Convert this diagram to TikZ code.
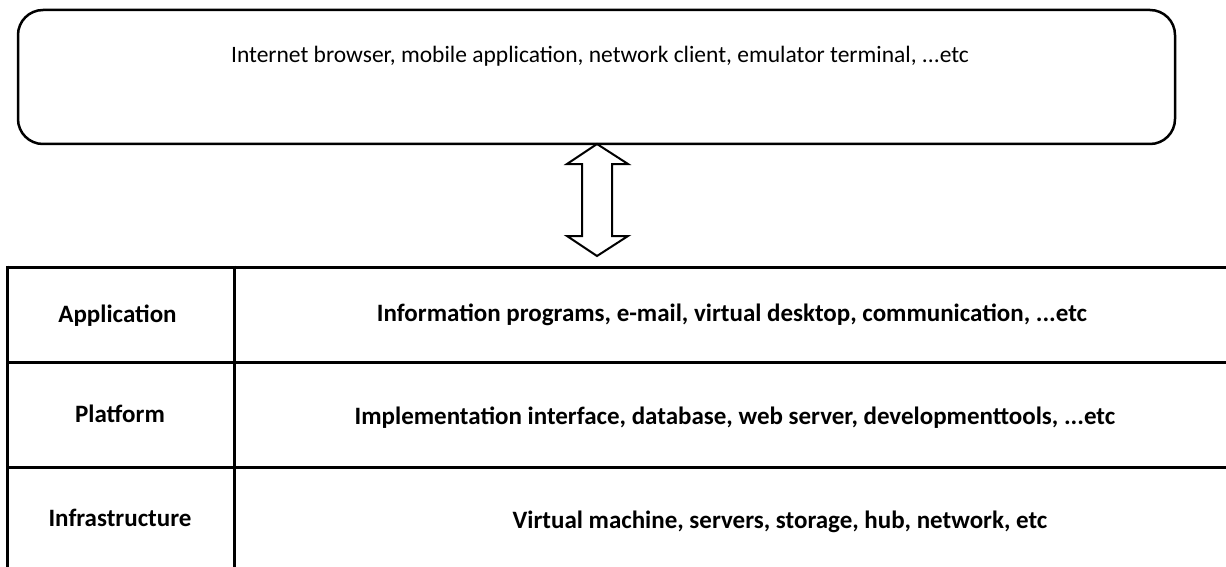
\documentclass[tikz,border=0pt]{standalone}
\usepackage{fontspec}
\setmainfont{Carlito}
\begin{document}
\begin{tikzpicture}[x=1pt,y=-1pt,
  lbl/.style={font=\fontsize{25}{28}\selectfont\bfseries, inner sep=0pt, anchor=base},
  top/.style={font=\fontsize{23.5}{27}\selectfont, inner sep=0pt, anchor=base},
  grid/.style={line width=3pt},
  arr/.style={line width=2pt, line join=miter}]
\useasboundingbox (0,0) rectangle (1226,567);
% client box
\draw[line width=2.5pt, rounded corners=25pt] (18,10) rectangle (1175,144);
\node[top] (client) at (600,63) {Internet browser, mobile application, network client, emulator terminal, ...etc};
% double arrow
\coordinate (tipT) at (597,144);
\coordinate (tipB) at (597,256);
\draw[arr] (tipT) -- (628,164) -- (612,164) -- (612,236) -- (628,236) -- (tipB)
  -- (567,236) -- (582,236) -- (582,164) -- (567,164) -- cycle;
% table
\draw[grid] (7,267) -- (1226,267);
\draw[grid] (7,362) -- (1226,362);
\draw[grid] (7,467) -- (1226,467);
\draw[grid] (7,265.5) -- (7,567);
\draw[grid] (234,265.5) -- (234,567);
\node[lbl] (app) at (117.5,322) {Application};
\node[lbl] (plat) at (120,422) {Platform};
\node[lbl] (infra) at (120,526) {Infrastructure};
\node[lbl] (appd) at (732,321) {Information programs, e-mail, virtual desktop, communication, ...etc};
\node[lbl] (platd) at (735,424) {Implementation interface, database, web server, developmenttools, ...etc};
\node[lbl] (infrad) at (780,528) {Virtual machine, servers, storage, hub, network, etc};
\end{tikzpicture}
\end{document}
